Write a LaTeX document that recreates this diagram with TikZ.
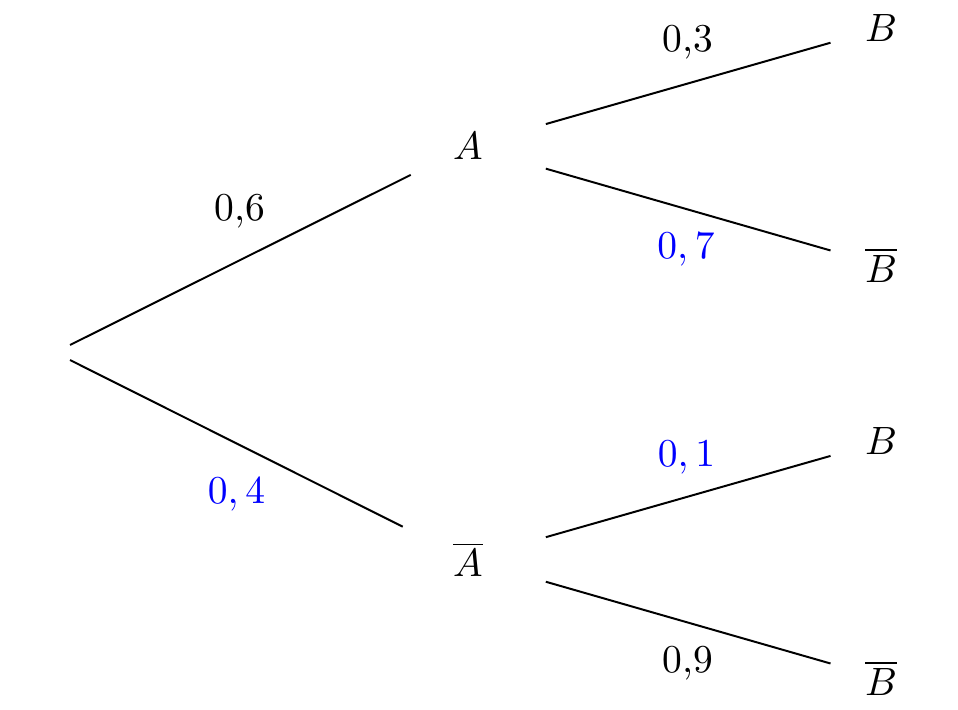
\documentclass[tikz,border=0pt]{standalone}
\begin{document}
\begin{tikzpicture}[x=0.2532pt,y=-0.2532pt,
  branch/.style={line width=0.5pt},
  ev/.style={inner sep=0pt,anchor=center},
  prob/.style={inner sep=0pt,anchor=base},
  probblue/.style={prob,text=blue}]
\useasboundingbox (0,0) rectangle (958,710);
\coordinate (root) at (55,352.5);
\node[ev] (A)  at (468,146.3) {$A$};
\node[ev] (Ab) at (468,559.4) {$\overline{A}$};
\node[ev] (B1)  at (881,28.3)  {$B$};
\node[ev] (B1b) at (881,265)   {$\overline{B}$};
\node[ev] (B2)  at (881,441.5) {$B$};
\node[ev] (B2b) at (881,678)   {$\overline{B}$};
\draw[branch,shorten <=4.25pt,shorten >=16.2pt] (root) -- (A.center);
\draw[branch,shorten <=4.25pt,shorten >=18.5pt] (root) -- (Ab.center);
\draw[branch,shorten <=20.5pt,shorten >=13.3pt] (A.center) -- (B1.center);
\draw[branch,shorten <=20.5pt,shorten >=13.3pt] (A.center) -- (B1b.center);
\draw[branch,shorten <=20.5pt,shorten >=13.3pt] (Ab.center) -- (B2.center);
\draw[branch,shorten <=20.5pt,shorten >=13.3pt] (Ab.center) -- (B2b.center);
\node[prob] (p6) at (240,221) {0,6};
\node[probblue] (p4) at (236.5,503) {$0,4$};
\node[prob] (p3) at (688,52) {0,3};
\node[probblue] (p7) at (686,259) {$0,7$};
\node[probblue] (p1) at (686.5,466) {$0,1$};
\node[prob] (p9) at (688,672) {0,9};
\end{tikzpicture}
\end{document}
